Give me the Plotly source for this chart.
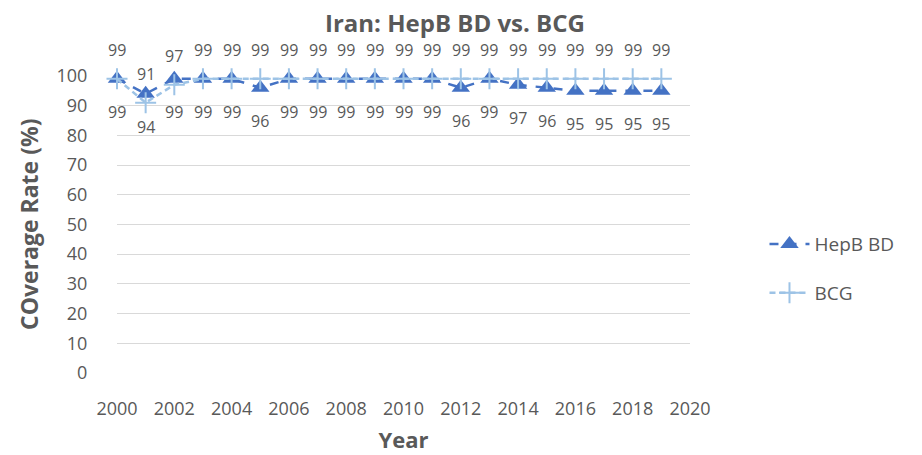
import plotly.graph_objects as go

years = list(range(2000, 2020))
hepb_bd = [99, 94, 99, 99, 99, 96, 99, 99, 99, 99, 99, 99, 96, 99, 97, 96, 95, 95, 95, 95]
bcg = [99, 91, 97, 99, 99, 99, 99, 99, 99, 99, 99, 99, 99, 99, 99, 99, 99, 99, 99, 99]
x_ticks = list(range(2000, 2021, 2))
y_ticks = list(range(0, 101, 10))

FONT = "Open Sans"
GREY = "#595959"
DARK = "#4472C4"
LIGHT = "#9DC3E6"

fig = go.Figure()
fig.add_trace(go.Scatter(
    x=years, y=hepb_bd, name="HepB BD", mode="lines+markers",
    line=dict(color=DARK, width=2.5, dash="dash"),
    marker=dict(symbol="triangle-up", size=16, color=DARK),
    legendgroup="a", cliponaxis=False,
))
fig.add_trace(go.Scatter(
    x=years, y=bcg, name="BCG", mode="lines+markers",
    line=dict(color=LIGHT, width=2.5, dash="6px,4px"),
    marker=dict(symbol="cross-thin", size=15, line=dict(color=LIGHT, width=2)),
    legendgroup="b", cliponaxis=False,
))

annotations = []
for x, v in zip(years, bcg):
    annotations.append(dict(x=x, y=v, text=str(v), showarrow=False, yshift=29,
                            borderpad=0,
                            font=dict(family=FONT, size=16, color=GREY)))
for x, v in zip(years, hepb_bd):
    annotations.append(dict(x=x, y=v, text=str(v), showarrow=False, yshift=-33,
                            borderpad=0,
                            font=dict(family=FONT, size=16, color=GREY)))
annotations.append(dict(text="<b>COverage Rate (%)</b>", xref="paper", yref="paper",
                        x=-0.1536, y=0.5, xanchor="center", yanchor="middle",
                        textangle=-90, showarrow=False,
                        font=dict(family=FONT, size=23, color=GREY)))
annotations.append(dict(text="<b>Iran: HepB BD vs. BCG</b>", xref="paper", yref="paper",
                        x=0.590, y=1.176, xanchor="center", yanchor="middle",
                        showarrow=False, borderpad=0,
                        font=dict(family=FONT, size=24, color=GREY)))

fig.update_layout(
    width=914, height=447,
    margin=dict(l=109, r=232, t=67, b=82, autoexpand=False),
    paper_bgcolor="white", plot_bgcolor="white",
    font=dict(family=FONT, color=GREY, size=18),
    showlegend=True,
    legend=dict(x=1.13, y=0.35, xanchor="left", yanchor="middle",
                font=dict(size=19, color=GREY), tracegroupgap=21, itemwidth=40),
    annotations=annotations,
    xaxis=dict(range=[2000, 2020], tickvals=x_ticks, showgrid=False, automargin=False,
               zeroline=False, showline=False, ticks="outside", ticklen=19,
               tickcolor="rgba(0,0,0,0)", tickfont=dict(size=18, color=GREY),
               title=dict(text="<b>Year</b>", font=dict(size=22, color=GREY), standoff=14)),
    yaxis=dict(range=[0, 100.3], tickvals=y_ticks, showgrid=True, gridcolor="#D9D9D9",
               gridwidth=1.3, zeroline=False, showline=False, ticks="outside", ticklen=25,
               automargin=False,
               tickcolor="rgba(0,0,0,0)", tickfont=dict(size=18, color=GREY)),
)

fig.write_html("out.html")
